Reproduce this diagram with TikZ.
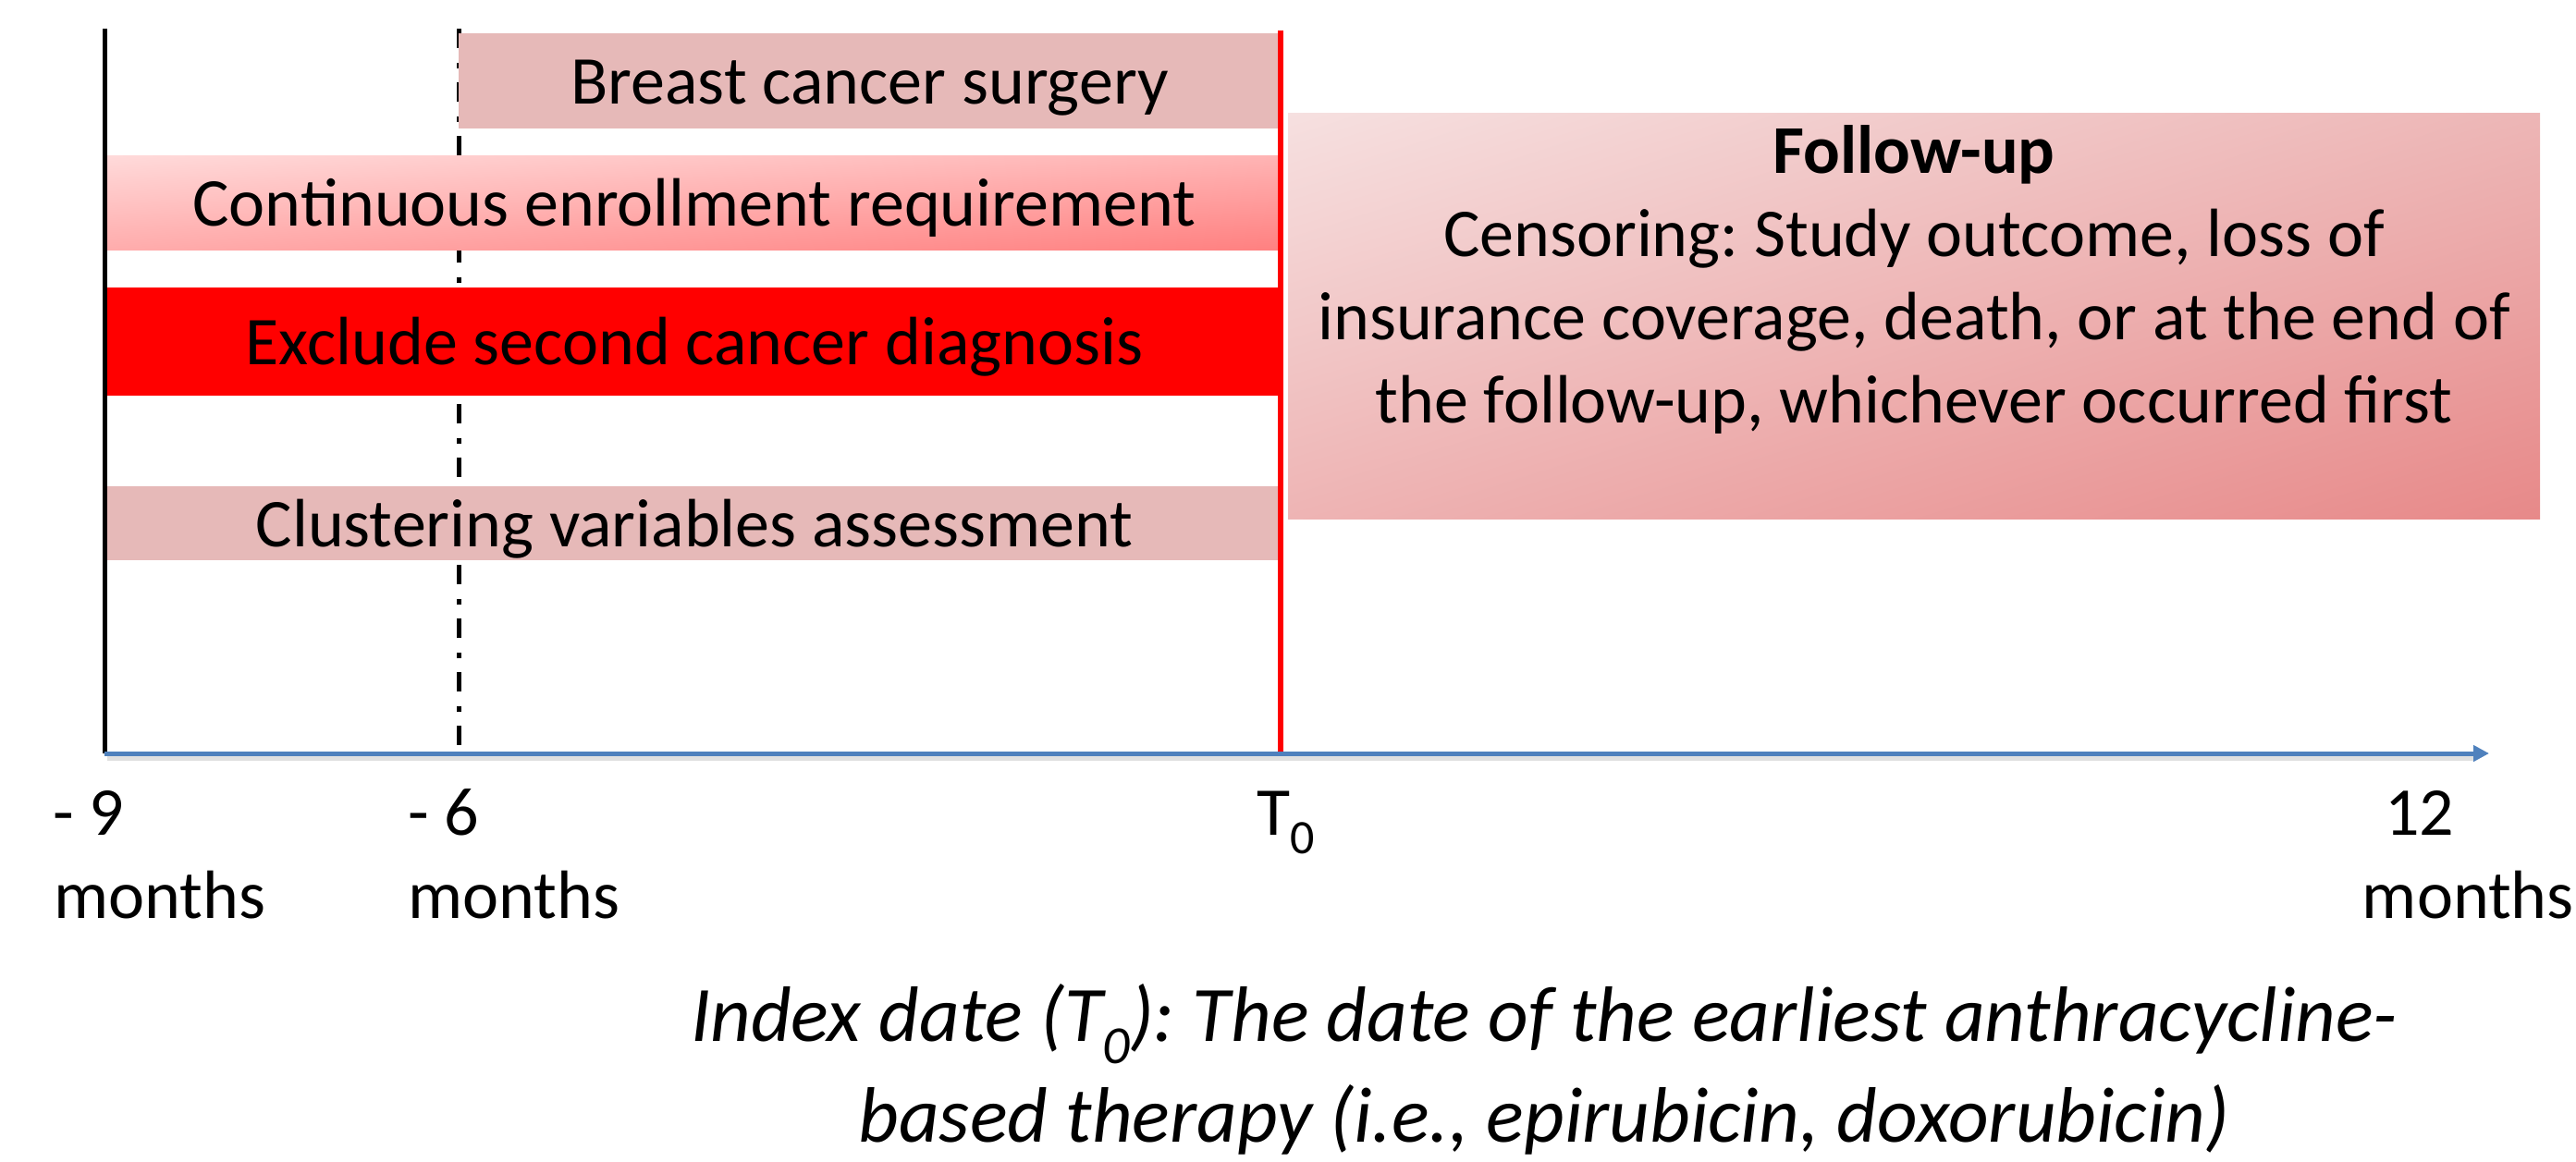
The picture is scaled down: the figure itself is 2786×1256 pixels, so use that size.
\documentclass[tikz,border=0pt]{standalone}
\usepackage{fontspec}
\setmainfont{Carlito}
\usetikzlibrary{arrows.meta,shadings}
\definecolor{boxpink}{RGB}{230,185,184}
\definecolor{axisblue}{RGB}{79,129,189}
\definecolor{enUL}{RGB}{255,218,218}
\definecolor{enUR}{RGB}{255,180,180}
\definecolor{enLL}{RGB}{255,172,172}
\definecolor{enLR}{RGB}{255,128,128}
\definecolor{fuUL}{RGB}{246,224,224}
\definecolor{fuUR}{RGB}{237,182,182}
\definecolor{fuLL}{RGB}{238,180,180}
\definecolor{fuLR}{RGB}{231,137,137}
\tikzset{
  txt/.style={font=\fontsize{74}{90}\selectfont\frenchspacing, inner sep=0pt},
  itxt/.style={font=\fontsize{85}{109}\selectfont\itshape\frenchspacing, inner sep=0pt},
  bar/.style={txt, text height=50pt, text depth=0pt, anchor=center, minimum height=#1},
  vline/.style={line width=5pt},
  timeaxis/.style={line width=5pt, draw=axisblue, -{Triangle[length=17pt,width=17pt]}},
}
\begin{document}
\begin{tikzpicture}[x=1pt,y=-1pt]
\useasboundingbox (0,0) rectangle (2786,1256);
% vertical guide lines
\coordinate (bltop) at (113,31);
\coordinate (blbot) at (113,815);
\coordinate (ddtop) at (496,31);
\coordinate (ddbot) at (496,815);
\coordinate (rdtop) at (1385,33);
\coordinate (rdbot) at (1385,813);
\draw[vline, black] (bltop) -- (blbot);
\draw[vline, black, dash pattern=on 21pt off 16pt on 6pt off 15pt] (ddtop) -- (ddbot);
% time axis
\coordinate (axL) at (113,815);
\coordinate (axR) at (2692,815);
\coordinate (axLs) at (116,820);
\coordinate (axRs) at (2676,820);
\draw[line width=5pt, draw=black, opacity=0.12] (axLs) -- (axRs);
\draw[timeaxis] (axL) -- (axR);
% bars
\node[bar=103pt, fill=boxpink, minimum width=889pt] (surgery) at (940.5,87.5) {Breast cancer surgery};
\node[bar=102pt, shade, upper left=enUL, upper right=enUR, lower left=enLL, lower right=enLR, minimum width=1270pt] (enroll) at (751,219) {Continuous enrollment requirement};
\node[bar=117pt, fill=red, minimum width=1270pt] (exclude) at (751,369.5) {Exclude second cancer diagnosis};
\node[bar=80pt, fill=boxpink, minimum width=1270pt] (cluster) at (751,566) {Clustering variables assessment};
\draw[vline, line width=6pt, red] (rdtop) -- (rdbot);
% follow-up box
\node[inner sep=0pt, shade, upper left=fuUL, upper right=fuUR, lower left=fuLL, lower right=fuLR, minimum width=1354pt, minimum height=439pt] (follow) at (2070,341.5) {};
\node[txt, anchor=base] (fu1) at (2070,187) {\bfseries Follow-up};
\node[txt, anchor=base] (fu2) at (2070,277) {Censoring: Study outcome, loss of};
\node[txt, anchor=base] (fu3) at (2070,367) {insurance coverage, death, or at the end of};
\node[txt, anchor=base] (fu4) at (2070,457) {the follow-up, whichever occurred first};
% axis labels
\node[txt, anchor=base west] (m9a) at (57,903) {- 9};
\node[txt, anchor=base west] (m9b) at (58,993) {months};
\node[txt, anchor=base west] (m6a) at (441,903) {- 6};
\node[txt, anchor=base west] (m6b) at (441,993) {months};
\node[txt, anchor=base west] (t0) at (1359,903) {T\raisebox{-20pt}{\fontsize{52}{52}\selectfont 0}};
\node[txt, anchor=base west] (p12a) at (2579,903) {12};
\node[txt, anchor=base east] (p12b) at (2784,993) {months};
% footnote
\node[itxt, anchor=base] (idx1) at (1670,1126) {Index date (T\raisebox{-24pt}{\fontsize{58}{58}\selectfont 0}): The date of the earliest anthracycline-};
\node[itxt, anchor=base] (idx2) at (1670,1235) {based therapy (i.e., epirubicin, doxorubicin)};
\end{tikzpicture}
\end{document}
